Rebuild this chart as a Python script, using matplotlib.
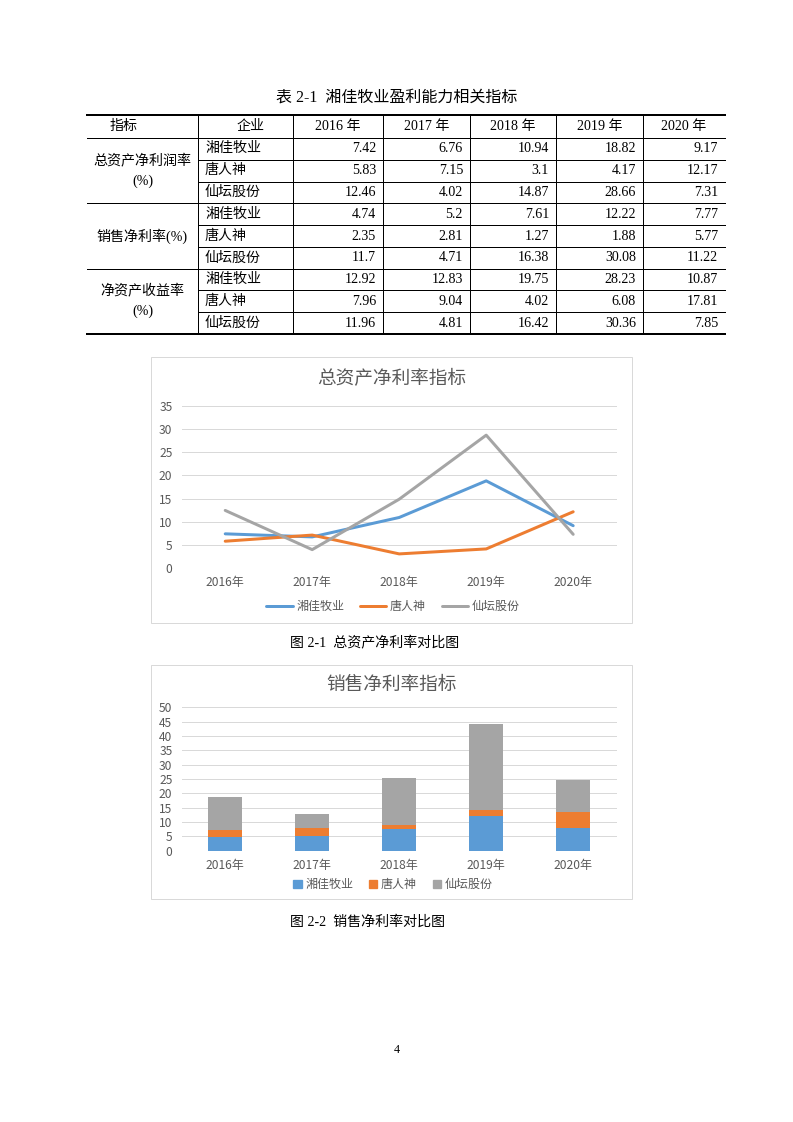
import numpy as np
import matplotlib
matplotlib.use('Agg')
import matplotlib.pyplot as plt
from matplotlib.patches import Rectangle, Patch

plt.rcParams['font.family'] = ['Noto Sans CJK SC', 'DejaVu Sans']

# data
years = ['2016', '2017', '2018', '2019', '2020']
companies = ['湘佳牧业', '唐人神', '仙坛股份']
groups = ['总资产净利润率\n(%)', '销售净利率(%)', '净资产收益率\n(%)']

roa = [[7.42, 6.76, 10.94, 18.82, 9.17],
       [5.83, 7.15, 3.1, 4.17, 12.17],
       [12.46, 4.02, 14.87, 28.66, 7.31]]
npm = [[4.74, 5.2, 7.61, 12.22, 7.77],
       [2.35, 2.81, 1.27, 1.88, 5.77],
       [11.7, 4.71, 16.38, 30.08, 11.22]]
roe = [[12.92, 12.83, 19.75, 28.23, 10.87],
       [7.96, 9.04, 4.02, 6.08, 17.81],
       [11.96, 4.81, 16.42, 30.36, 7.85]]
values_txt = [['7.42', '6.76', '10.94', '18.82', '9.17'],
              ['5.83', '7.15', '3.1', '4.17', '12.17'],
              ['12.46', '4.02', '14.87', '28.66', '7.31'],
              ['4.74', '5.2', '7.61', '12.22', '7.77'],
              ['2.35', '2.81', '1.27', '1.88', '5.77'],
              ['11.7', '4.71', '16.38', '30.08', '11.22'],
              ['12.92', '12.83', '19.75', '28.23', '10.87'],
              ['7.96', '9.04', '4.02', '6.08', '17.81'],
              ['11.96', '4.81', '16.42', '30.36', '7.85']]

colors = ['#5B9BD5', '#ED7D31', '#A5A5A5']
grey_txt = '#595959'
grid_c = '#D9D9D9'

W, H = 793, 1122
fig = plt.figure(figsize=(W / 96, H / 96), dpi=96)
fig.patch.set_facecolor('white')

# page axes in pixel coords
ax0 = fig.add_axes([0, 0, 1, 1])
ax0.set_xlim(0, W)
ax0.set_ylim(H, 0)
ax0.axis('off')

serif = ['Liberation Serif', 'Noto Sans CJK SC']

# ---- table ----
ax0.text(397, 98, '表 2-1  湘佳牧业盈利能力相关指标', fontsize=12, family=serif,
         ha='center', va='center')

cols = [87, 198, 293, 383, 470, 556, 643, 725]
top, head_b, bot = 114.5, 138, 334
rh = (bot - head_b) / 9

ax0.plot([cols[0], cols[-1]], [top, top], color='black', lw=1.5)
ax0.plot([cols[0], cols[-1]], [bot, bot], color='black', lw=1.5)
ax0.plot([cols[0], cols[-1]], [head_b, head_b], color='black', lw=0.75)
for i in range(1, 9):
    y = head_b + i * rh
    x0 = cols[0] if i % 3 == 0 else cols[1]
    ax0.plot([x0, cols[-1]], [y, y], color='black', lw=0.75)
for x in cols[1:-1]:
    ax0.plot([x, x], [top, bot], color='black', lw=0.75)

hy = (top + head_b) / 2
ax0.text(110, hy, '指标', fontsize=10.5, family=serif, ha='left', va='center')
ax0.text(251, hy, '企业', fontsize=10.5, family=serif, ha='center', va='center')
for j, yr in enumerate(years):
    ax0.text((cols[j + 2] + cols[j + 3]) / 2, hy, yr + ' 年', fontsize=10.5,
             family=serif, ha='center', va='center')

for g, name in enumerate(groups):
    yc = head_b + (g * 3 + 1.5) * rh
    ax0.text((cols[0] + cols[1]) / 2, yc, name, fontsize=10.5, family=serif,
             ha='center', va='center', linespacing=1.6)

for i in range(9):
    yc = head_b + (i + 0.5) * rh
    ax0.text(205, yc, companies[i % 3], fontsize=10.5, family=serif,
             ha='left', va='center')
    for j in range(5):
        ax0.text(cols[j + 3] - 7, yc, values_txt[i][j], fontsize=10.5,
                 family=serif, ha='right', va='center')


def px_axes(l, t, r, b):
    return fig.add_axes([l / W, 1 - b / H, (r - l) / W, (b - t) / H])


def style(ax, ymax, step):
    ax.set_xlim(-0.5, 4.5)
    ax.set_ylim(0, ymax)
    ax.set_yticks(np.arange(0, ymax + 1, step))
    ax.set_xticks(np.arange(5), [y + '年' for y in years])
    ax.grid(axis='y', color=grid_c, lw=0.75)
    ax.set_axisbelow(True)
    for s in ax.spines.values():
        s.set_visible(False)
    ax.tick_params(length=0, labelsize=9, labelcolor=grey_txt)
    ax.tick_params(axis='y', pad=7)
    ax.tick_params(axis='x', pad=6)
    ax.patch.set_alpha(0)


# ---- chart 1 ----
ax0.add_patch(Rectangle((151, 357), 481, 266, fill=False, ec=grid_c, lw=0.75))
ax1 = px_axes(181.7, 405.7, 616.7, 568.3)
x = np.arange(5)
for vals, c, name in zip(roa, colors, companies):
    ax1.plot(x, vals, color=c, lw=2.25, label=name, solid_capstyle='round')
style(ax1, 35, 5)
ax0.text(391.5, 379, '总资产净利率指标', fontsize=14, color=grey_txt,
         ha='center', va='center')
ax1.legend(loc='center', bbox_to_anchor=(393 / W, 1 - 606.7 / H),
           bbox_transform=fig.transFigure, ncol=3, frameon=False, fontsize=9,
           handlelength=2.2, columnspacing=1.3, handletextpad=0.3,
           labelcolor=grey_txt)
ax0.text(290, 643, '图 2-1  总资产净利率对比图', fontsize=10.5, family=serif,
         ha='left', va='center')

# ---- chart 2 ----
ax0.add_patch(Rectangle((151, 665), 481, 234, fill=False, ec=grid_c, lw=0.75))
ax2 = px_axes(181.7, 707.3, 616.7, 850.7)
bottom = np.zeros(5)
for vals, c, name in zip(npm, colors, companies):
    ax2.bar(x, vals, width=0.39, bottom=bottom, color=c, label=name)
    bottom += np.array(vals)
style(ax2, 50, 5)
ax0.text(391.5, 684, '销售净利率指标', fontsize=14, color=grey_txt,
         ha='center', va='center')
handles = [Patch(color=c, label=n) for c, n in zip(colors, companies)]
ax2.legend(handles=handles, loc='center', bbox_to_anchor=(393 / W, 1 - 884.7 / H),
           bbox_transform=fig.transFigure, ncol=3, frameon=False, fontsize=9,
           handlelength=0.7, handleheight=0.7, columnspacing=1.3,
           handletextpad=0.3, labelcolor=grey_txt)
ax0.text(290, 922, '图 2-2  销售净利率对比图', fontsize=10.5, family=serif,
         ha='left', va='center')

ax0.text(397, 1050, '4', fontsize=9, family=serif, ha='center', va='center')

fig.savefig('out.png', dpi=96)
